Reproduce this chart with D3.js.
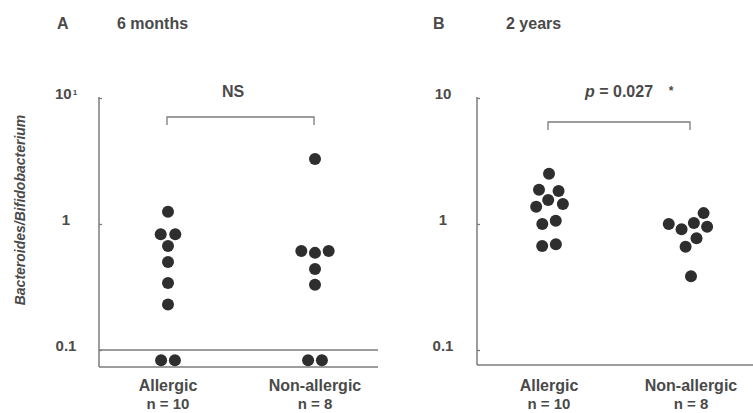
<!DOCTYPE html>
<html>
<head>
<meta charset="utf-8">
<script src="https://cdn.jsdelivr.net/npm/d3@7"></script>
<style>
  html, body { margin: 0; padding: 0; background: #ffffff; }
  svg { display: block; }
  text { font-family: "Liberation Sans", Arial, sans-serif; font-weight: bold; fill: #4a4a4a; }
</style>
</head>
<body>
<svg id="chart" width="753" height="413"></svg>
<script>
// ---- data ----
const categories = ["Allergic", "Non-allergic"];
const groupSizes = ["n = 10", "n = 8"];
const panelLetters = ["A", "B"];
const panelTitles = ["6 months", "2 years"];
const statLabels = ["NS", "p = 0.027"];
const yTicks = [10, 1, 0.1];
const detectionLimit = 0.1;

// Bacteroides/Bifidobacterium ratios, 6 months (0.083 = below detection limit)
const allergic6m    = [1.25, 0.83, 0.83, 0.67, 0.50, 0.34, 0.23, 0.083, 0.083];
const nonAllergic6m = [3.28, 0.61, 0.61, 0.59, 0.44, 0.33, 0.083, 0.083];
// 2 years
const allergic2y    = [2.50, 1.87, 1.83, 1.55, 1.44, 1.37, 1.06, 1.00, 0.69, 0.67];
const nonAllergic2y = [1.22, 1.02, 1.00, 0.95, 0.91, 0.77, 0.66, 0.385];

const panelSeries = [[allergic6m, nonAllergic6m], [allergic2y, nonAllergic2y]];

// ---- layout ----
const svg = d3.select("#chart");
const layout = [
  { axisX: 99,  right: 378, bottom: 367, cols: [168, 315], labelX: 66,  letterX: 57,  titleX: 117, bracketY: 117, statX: 233, showLimit: true,  sup: true },
  { axisX: 477, right: 753, bottom: 365, cols: [549, 691], labelX: 443, letterX: 433, titleX: 506, bracketY: 122, statX: 619, showLimit: false, sup: false }
];
const y = d3.scaleLog().domain([0.1, 10]).range([350, 98]);
const axisColor = "#7c7c7c";
const dotR = 6;

layout.forEach((L, p) => {
  const g = svg.append("g");
  const x = d3.scalePoint().domain(categories).range(L.cols);

  // panel letter and title
  g.append("text").attr("x", L.letterX).attr("y", 29).attr("font-size", 16).text(panelLetters[p]);
  g.append("text").attr("x", L.titleX).attr("y", 29).attr("font-size", 16).text(panelTitles[p]);

  // y axis (ticks via d3 axis, inward)
  const yAxis = d3.axisLeft(y).tickValues(yTicks).tickSizeInner(-3).tickSizeOuter(0)
      .tickFormat(d => d >= 1 ? d3.format("d")(d) : d3.format(".1f")(d));
  const ya = g.append("g").attr("transform", `translate(${L.axisX},0)`).call(yAxis);
  ya.select(".domain").remove();
  ya.selectAll(".tick line").attr("stroke", axisColor).attr("stroke-width", 1.3);
  ya.selectAll(".tick text")
    .attr("x", L.labelX - L.axisX).attr("dy", "0.32em").attr("y", -4)
    .attr("text-anchor", "middle").attr("font-size", 15)
    .attr("fill", "#4a4a4a").attr("font-family", null);
  if (L.sup) {
    ya.selectAll(".tick text").filter(d => d === 10)
      .append("tspan").attr("font-size", 8).attr("dy", "-0.6em").attr("dx", 1).text("1");
  }
  // vertical axis line
  g.append("line").attr("x1", L.axisX).attr("x2", L.axisX)
    .attr("y1", y(10) - 1).attr("y2", L.bottom)
    .attr("stroke", axisColor).attr("stroke-width", 1.5);
  // bottom axis line
  g.append("line").attr("x1", L.axisX).attr("x2", L.right)
    .attr("y1", L.bottom).attr("y2", L.bottom)
    .attr("stroke", axisColor).attr("stroke-width", 1.5);
  // detection limit line
  if (L.showLimit) {
    g.append("line").attr("x1", L.axisX).attr("x2", L.right)
      .attr("y1", y(detectionLimit)).attr("y2", y(detectionLimit))
      .attr("stroke", axisColor).attr("stroke-width", 1.3);
  }

  // bracket
  const bx0 = x(categories[0]) - 1, bx1 = x(categories[1]) - 1, by = L.bracketY;
  g.append("path")
    .attr("d", `M${bx0},${by + 8}V${by}H${bx1}V${by + 8}`)
    .attr("fill", "none").attr("stroke", axisColor).attr("stroke-width", 1.3);
  const st = g.append("text").attr("x", L.statX).attr("y", 97)
    .attr("text-anchor", "middle").attr("font-size", 16);
  if (statLabels[p].startsWith("p ")) {
    st.append("tspan").attr("font-style", "italic").text("p");
    st.append("tspan").text(statLabels[p].slice(1));
    g.append("text").attr("x", L.statX + 52).attr("y", 95).attr("text-anchor", "middle")
      .attr("font-size", 12).text("*");
  } else {
    st.text(statLabels[p]);
  }

  // category labels
  categories.forEach((c, i) => {
    g.append("text").attr("x", x(c)).attr("y", 391).attr("text-anchor", "middle")
      .attr("font-size", 16).text(c);
    g.append("text").attr("x", x(c)).attr("y", 409).attr("text-anchor", "middle")
      .attr("font-size", 15).text(groupSizes[i]);
  });

  // dots (beeswarm via d3-force with fixed y)
  categories.forEach((c, i) => {
    const cx = x(c);
    const nodes = panelSeries[p][i].map(v => ({ v, x: cx, fy: y(v) }));
    const sim = d3.forceSimulation(nodes)
      .force("x", d3.forceX(cx).strength(0.06))
      .force("collide", d3.forceCollide(6.9).iterations(4))
      .stop();
    for (let k = 0; k < 400; k++) sim.tick();
    g.selectAll(null).data(nodes).enter().append("circle")
      .attr("cx", d => d.x).attr("cy", d => y(d.v)).attr("r", dotR)
      .attr("fill", "#2e2e2e");
  });
});

// y-axis title
svg.append("text")
  .attr("transform", "translate(25,210) rotate(-90)")
  .attr("text-anchor", "middle").attr("font-size", 14).attr("font-style", "italic")
  .text("Bacteroides/Bifidobacterium");
</script>
</body>
</html>
